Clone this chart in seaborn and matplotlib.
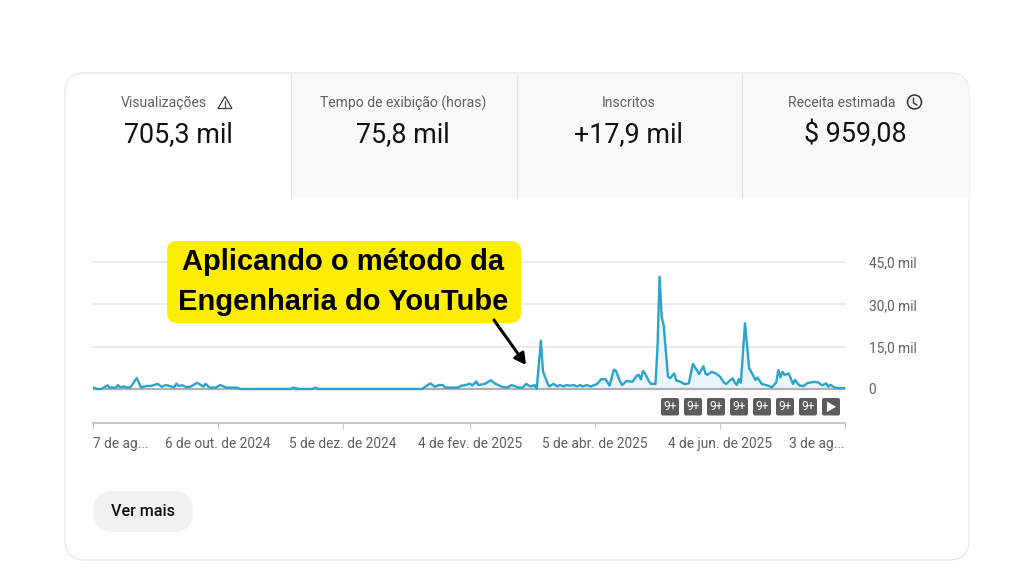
"""
YouTube Studio overview card with the daily views chart.
"""

import matplotlib
matplotlib.use("Agg")
import matplotlib.pyplot as plt
from matplotlib.patches import Circle, FancyBboxPatch, Polygon, Rectangle
import pandas as pd
import seaborn as sns

# daily views in thousands (day 0 = 7 Aug 2024)
DAYS = [0, 2, 4, 7, 8, 11, 12, 13, 15, 16, 18, 21, 23, 26, 28, 31, 33, 35, 39, 40,
        41, 43, 45, 47, 50, 53, 54, 56, 59, 61, 64, 69, 71, 95, 96, 99, 105, 107, 108,
        158, 160, 162, 164, 166, 168, 169, 175, 177, 179, 181, 182, 184, 185, 188,
        191, 193, 197, 199, 201, 204, 206, 208, 210, 212, 213, 215, 216, 218, 219,
        221, 223, 224, 226, 227, 229, 231, 232, 234, 235, 237, 239, 242, 244, 246,
        248, 250, 251, 253, 254, 256, 259, 261, 262, 263, 264, 265, 267, 268, 270,
        271, 272, 273, 274, 276, 277, 279, 280, 282, 284, 286, 288, 289, 291, 293,
        294, 295, 297, 299, 301, 303, 304, 307, 308, 309, 310, 311, 313, 315, 316,
        318, 319, 321, 324, 326, 328, 329, 330, 331, 332, 334, 336, 337, 339, 341,
        343, 346, 348, 350, 352, 353, 354, 356, 358, 361]
VIEWS = [0.5, 0, 0, 1.3, 0.5, 0.5, 1.4, 0.6, 0.9, 0.5, 0.6, 3.9, 0.6, 1.1, 1.1, 1.8, 0.8, 1.4, 0.6, 1.9,
         1.1, 1.3, 0.6, 0.9, 2.2, 0.8, 1.8, 0.5, 0.5, 1.4, 0.5, 0.5, 0, 0, 0.5, 0, 0, 0.5, 0,
         0, 1.1, 2.0, 0.8, 1.4, 1.4, 0.5, 0.5, 1.2, 1.4, 1.9, 1.2, 2.7, 1.4, 1.8,
         3.1, 1.9, 0.6, 0.6, 1.4, 0.6, 0.4, 1.8, 0.9, 1.4, 0, 17.1, 6.3, 2.4, 0.9,
         1.8, 0.9, 1.4, 0.9, 1.4, 1.2, 1.4, 0.9, 1.4, 0.9, 1.4, 0.9, 1.8, 3.5, 3.5,
         1.2, 6.8, 6.5, 2.6, 1.4, 2.8, 2.6, 4.7, 5.0, 3.4, 6.4, 5.5, 2.6, 1.8, 1.8,
         15.0, 39.8, 25.6, 22.3, 4.4, 3.8, 5.5, 3.0, 2.6, 1.7, 2.0, 8.9, 7.7, 5.3, 8.1,
         5.5, 5.0, 6.1, 5.5, 4.4, 2.2, 1.8, 3.8, 2.4, 1.4, 3.5, 2.2, 23.3, 7.3, 6.1,
         3.2, 4.1, 1.8, 1.2, 0.6, 2.4, 6.7, 4.1, 6.1, 5.0, 5.5, 1.8, 3.2, 1.3, 1.0,
         2.1, 2.5, 2.4, 1.3, 2.0, 0.8, 1.5, 0.5, 0.3, 0.3]

TICK_DAYS = [0, 60, 120, 181, 241, 301, 361]
TICK_LABELS = ["7 de ag...", "6 de out. de 2024", "5 de dez. de 2024", "4 de fev. de 2025",
               "5 de abr. de 2025", "4 de jun. de 2025", "3 de ag..."]
Y_TICKS = [0, 15, 30, 45]
Y_LABELS = ["0", "15,0 mil", "30,0 mil", "45,0 mil"]

TAB_TITLES = ["Visualizações", "Tempo de exibição (horas)", "Inscritos", "Receita estimada"]
TAB_VALUES = ["705,3 mil", "75,8 mil", "+17,9 mil", "$ 959,08"]

W, H = 1024, 576
GRAY = "#606060"
LINE = "#2ba3cb"


def pixel_axes(fig, zorder):
    """Full-figure axes in image pixels, for the card furniture."""
    ax = fig.add_axes([0, 0, 1, 1], zorder=zorder)
    ax.set_xlim(0, W)
    ax.set_ylim(H, 0)
    ax.axis("off")
    ax.patch.set_alpha(0)
    return ax


def rounded(ax, x0, y0, x1, y1, r, **kw):
    p = FancyBboxPatch((x0 + r, y0 + r), x1 - x0 - 2 * r, y1 - y0 - 2 * r,
                       boxstyle=f"round,pad={r},rounding_size={r}", **kw)
    ax.add_patch(p)
    return p


def draw_card(ax):
    card = rounded(ax, 65, 73, 969, 560, 20, facecolor="white", edgecolor="#e6e6e6", linewidth=0.9)
    tab = Rectangle((291, 73.5), 677.5, 124.5, facecolor="#f9f9f9", edgecolor="none")
    ax.add_patch(tab)
    tab.set_clip_path(card)
    for x in [290.5, 516.5, 742]:
        ax.plot([x, x], [74, 198], color="#e4e4e4", lw=0.9)

    title_x = [164, 403, 629, 842]
    value_x = [178, 403, 629, 855]
    for i in range(4):
        ax.text(title_x[i], 103, TAB_TITLES[i], ha="center", va="center", fontsize=10.1,
                color=GRAY, family="Roboto")
        ax.text(value_x[i], 134.5, TAB_VALUES[i], ha="center", va="center", fontsize=19.4,
                color="#111111", family="Roboto")

    # warning icon
    ax.add_patch(Polygon([(225, 96.5), (232, 108.5), (218, 108.5)], closed=True, fill=False,
                         edgecolor="#404040", linewidth=0.9))
    ax.plot([225, 225], [101, 105], color="#404040", lw=0.9)
    ax.plot([225, 225], [106, 107.2], color="#404040", lw=0.9)
    # clock icon
    ax.add_patch(Circle((914.5, 102), 7, fill=False, edgecolor="#303030", linewidth=1.1))
    ax.plot([913.5, 913.5, 917], [98, 103, 105], color="#303030", lw=1)

    rounded(ax, 93, 491, 193, 532, 20, facecolor="#f2f2f2", edgecolor="none")
    ax.text(143, 512, "Ver mais", ha="center", va="center", fontsize=11.6, color="#0f0f0f",
            family="Roboto", fontweight="medium")


def draw_chart(fig):
    df = pd.DataFrame({"day": DAYS, "views": VIEWS})

    # axes span: 93-845 px across, value 45 at y=262, bottom rule at y=423
    ax = fig.add_axes([93 / W, 1 - 423 / H, 752 / W, 161 / H], zorder=1)
    ax.patch.set_alpha(0)
    ax.set_xlim(0, 361)
    ax.set_ylim(-12.05, 45)

    for v in Y_TICKS[1:]:
        ax.axhline(v, color="#e6e6e6", lw=1.2, zorder=0, clip_on=False)
    ax.axhline(0, color="#b0b0b0", lw=1.6, zorder=1)

    shaded = df[df["day"] >= 158]
    ax.fill_between(shaded["day"], 0, shaded["views"], color="#e9f5f8", zorder=0.5, lw=0)
    sns.lineplot(data=df, x="day", y="views", ax=ax, color=LINE, linewidth=1.7, errorbar=None, zorder=2)

    ax.set_xlabel("")
    ax.set_ylabel("")
    sns.despine(ax=ax, left=True, top=True, right=True)
    ax.spines["bottom"].set_color("#bdbdbd")
    ax.spines["bottom"].set_linewidth(1.2)

    ax.yaxis.tick_right()
    ax.set_yticks(Y_TICKS)
    ax.set_yticklabels(Y_LABELS, family="Roboto", fontsize=9.9, color=GRAY)
    ax.tick_params(axis="y", length=0, pad=17)

    ax.set_xticks(TICK_DAYS)
    ax.set_xticklabels(TICK_LABELS, family="Roboto", fontsize=9.9, color=GRAY)
    ax.tick_params(axis="x", bottom=True, length=4.5, width=0.8, color="#cccccc", pad=5.5)
    labels = ax.get_xticklabels()
    labels[0].set_ha("left")
    labels[-1].set_ha("right")
    return ax


def draw_overlay(ax):
    # event badges under the chart
    for i, x in enumerate([670, 693, 716, 739, 762, 785, 808, 831]):
        rounded(ax, x - 9, 398, x + 9, 415.5, 2, facecolor="#5c5c5c", edgecolor="none")
        if i < 7:
            ax.text(x, 407, "9+", ha="center", va="center", fontsize=8.6, color="white", family="Roboto")
        else:
            ax.add_patch(Polygon([(x - 4, 401.5), (x + 5, 406.8), (x - 4, 412)], closed=True,
                                 facecolor="white", edgecolor="none"))

    # callout
    rounded(ax, 167, 241, 521, 323, 10, facecolor="#ffed00", edgecolor="none")
    ax.text(343.5, 261.5, "Aplicando o método da", ha="center", va="center", fontsize=21,
            fontweight="bold", color="black", family="Liberation Sans")
    ax.text(343.5, 301.5, "Engenharia do YouTube", ha="center", va="center", fontsize=21,
            fontweight="bold", color="black", family="Liberation Sans")
    ax.annotate("", xy=(526, 365), xytext=(494, 320),
                arrowprops=dict(arrowstyle="-|>,head_width=0.3,head_length=0.55", lw=2.2, color="black",
                                shrinkA=0, shrinkB=0))


def main():
    sns.set_theme(style="white")
    fig = plt.figure(figsize=(W / 100, H / 100), dpi=100, facecolor="white")
    draw_card(pixel_axes(fig, 0))
    draw_chart(fig)
    draw_overlay(pixel_axes(fig, 2))
    fig.savefig("out.png", dpi=100)
    plt.close(fig)


if __name__ == "__main__":
    main()
